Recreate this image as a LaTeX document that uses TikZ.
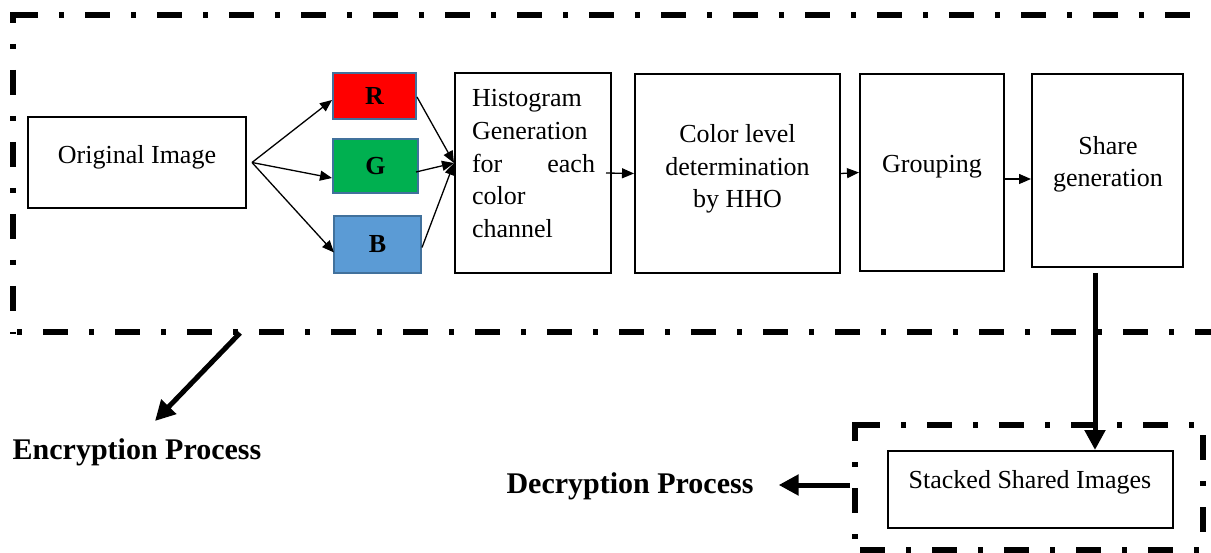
\documentclass[tikz,border=0pt]{standalone}
\usepackage{fontspec}
\setmainfont{Liberation Serif}
\usetikzlibrary{arrows.meta}
\definecolor{rfill}{HTML}{FF0000}
\definecolor{gfill}{HTML}{00B050}
\definecolor{bfill}{HTML}{5B9BD5}
\definecolor{chborder}{HTML}{41719C}
\tikzset{
 box/.style={draw=black, line width=2pt, inner sep=0pt},
 chan/.style={draw=chborder, line width=2pt, inner sep=0pt, font=\fontsize{26}{31}\selectfont\bfseries},
 txt/.style={inner sep=0pt, font=\fontsize{26}{32.7}\selectfont},
 bigtxt/.style={inner sep=0pt, font=\fontsize{30}{36}\selectfont\bfseries},
 thinarrow/.style={line width=1.3pt, -{Triangle[length=12pt,width=10pt]}},
 thickarrow/.style={line width=5pt, -{Triangle[length=20pt,width=20pt]}},
 dashdot/.style={line width=5.5pt, dash pattern=on 25pt off 21pt on 5pt off 21pt},
}
\begin{document}
\begin{tikzpicture}[x=1pt,y=-1pt]
\useasboundingbox (0,0) rectangle (1211,553);
\clip (0,0) rectangle (1211,553);
\fill[white] (0,0) rectangle (1211,553);

% outer dash-dot frame (encryption)
\draw[dashdot, dash phase=69.25pt] (10.25,15) -- (1230,15);
\draw[dashdot, dash phase=14.25pt] (13,12.25) -- (13,334);
\draw[dashdot, dash phase=39pt] (10,332) -- (1230,332);

% decryption frame
\draw[dashdot, dash phase=69pt] (852.25,425) -- (1230,425);
\draw[dashdot, dash phase=6pt] (855,422.25) -- (855,560);
\draw[dashdot, dash phase=59.25pt] (1203,422.25) -- (1203,560);
\draw[dashdot, dash phase=64pt] (852,550) -- (1230,550);

% boxes
\node[box, minimum width=218pt, minimum height=91pt] (orig) at (137,162.5) {};
\node[txt] (origtxt) at (137,157) {Original Image};

\node[chan, fill=rfill, minimum width=83pt, minimum height=46pt] (R) at (374.5,96) {R};
\node[chan, fill=gfill, minimum width=85pt, minimum height=54pt] (G) at (375.5,166) {G};
\node[chan, fill=bfill, minimum width=87pt, minimum height=57pt] (B) at (377.5,244.5) {B};

\node[box, minimum width=156pt, minimum height=200pt] (hist) at (533,173) {};
\node[txt, text width=123pt, align=left] (histtxt) at (533.5,163.6)
 {Histogram\\Generation\\\makebox[123pt]{for\hfill each}\\color\\channel};

\node[box, minimum width=205pt, minimum height=199pt] (col) at (737.5,173.5) {};
\node[txt, align=center] (coltxt) at (737.5,169) {Color level\\determination\\by HHO};

\node[box, minimum width=144pt, minimum height=197pt] (grp) at (932,172.5) {};
\node[txt] (grptxt) at (932,167) {Grouping};

\node[box, minimum width=151pt, minimum height=193pt] (shr) at (1107.5,170.5) {};
\node[txt, align=center] (shrtxt) at (1108,164.4) {Share\\generation};

\node[box, minimum width=285pt, minimum height=77pt] (stk) at (1030.5,489.5) {};
\node[txt] (stktxt) at (1030,482) {Stacked Shared Images};

\node[bigtxt] (enctxt) at (137,452) {Encryption Process};
\node[bigtxt] (dectxt) at (630,486) {Decryption Process};

% thin arrows
\draw[thinarrow] ([xshift=5pt]orig.east) -- ([yshift=-4pt]R.west);
\draw[thinarrow] ([xshift=5pt]orig.east) -- ([yshift=-12pt]G.west);
\draw[thinarrow] ([xshift=5pt]orig.east) -- ([xshift=1pt,yshift=-8pt]B.west);
\draw[thinarrow] ([yshift=-1pt]R.east) -- ([yshift=10pt]hist.west);
\draw[thinarrow] ([xshift=-3pt,yshift=-6pt]G.east) -- ([yshift=10pt]hist.west);
\draw[thinarrow] ([yshift=-3pt]B.east) -- ([yshift=10pt]hist.west);
\draw[thinarrow] ([xshift=-6pt]hist.east) -- (col.west);
\draw[thinarrow] (col.east) -- (grp.west);
\draw[thinarrow] ([yshift=-6.5pt]grp.east) -- ([yshift=-8.5pt]shr.west);

% thick arrows
\coordinate (sharedown) at (1095,273);
\draw[thickarrow] (sharedown) -- (sharedown |- stk.north);
\coordinate (encstart) at (240,333);
\coordinate (enctip) at (155,421);
\draw[thickarrow] (encstart) -- (enctip);
\coordinate (decstart) at (850,485);
\draw[thickarrow] (decstart) -- ([xshift=25pt]dectxt.east |- decstart);
\end{tikzpicture}
\end{document}
